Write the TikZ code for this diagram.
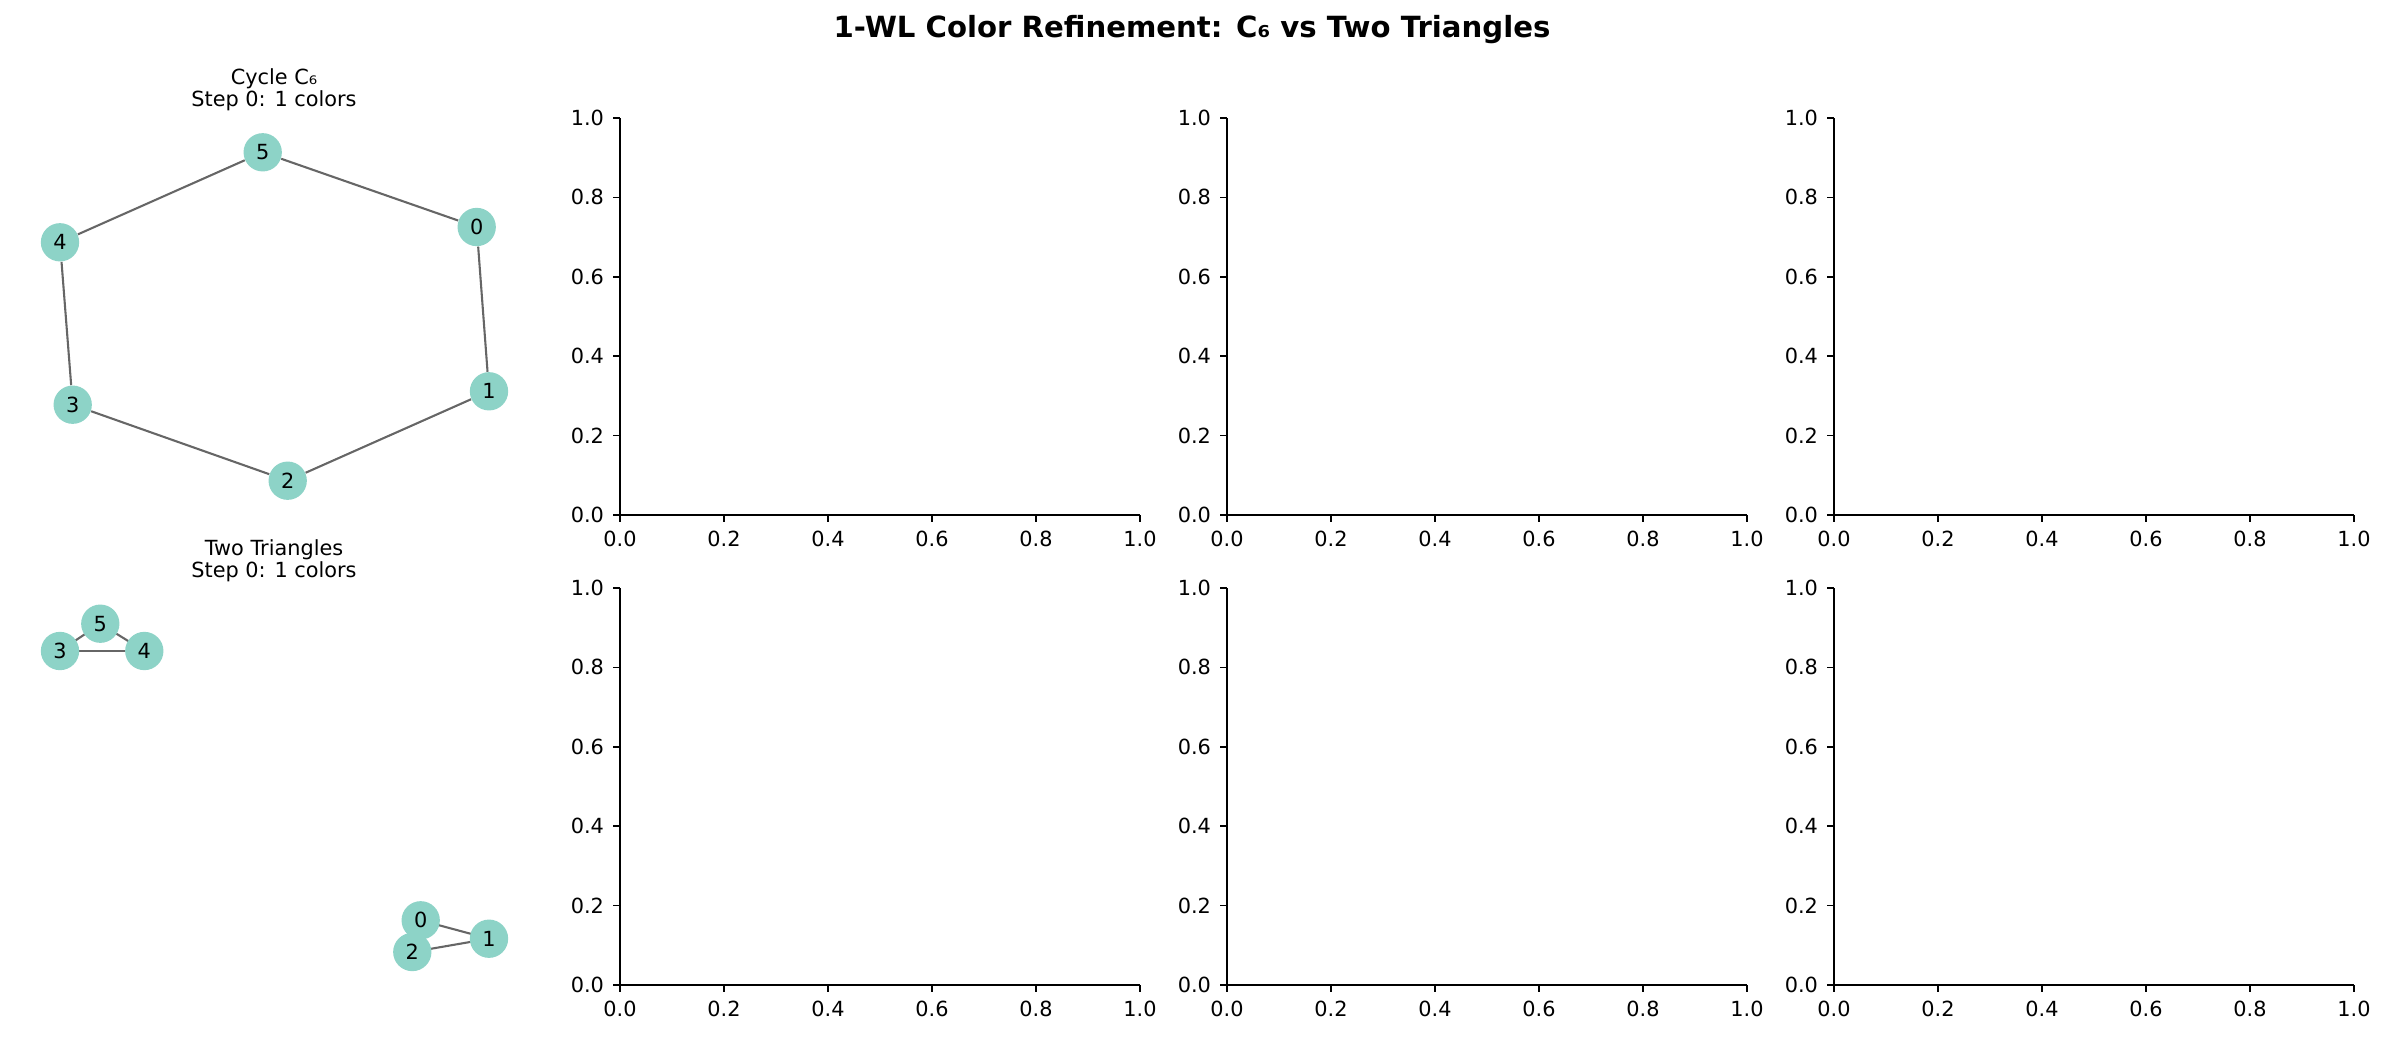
\documentclass[tikz,border=0pt]{standalone}
\usepackage{fontspec}
\setmainfont{DejaVu Sans}
\usetikzlibrary{backgrounds}
\definecolor{nodeteal}{HTML}{8DD3C7}
\definecolor{edgegray}{HTML}{666666}
\tikzset{
  vert/.style={circle,fill=nodeteal,minimum size=18.4bp,inner sep=0pt},
  link/.style={edgegray,line width=1bp},
  spine/.style={black,line width=0.8bp},
  subtitle/.style={align=center,inner sep=0pt,font=\fontsize{10bp}{10.5bp}\selectfont},
}
\begin{document}
\begin{tikzpicture}[x=0.48bp,y=-0.48bp,font=\fontsize{10bp}{12bp}\selectfont]
  \useasboundingbox (0,0) rectangle (2384,1036);
  \node[font=\fontsize{14bp}{16bp}\selectfont\bfseries] (title) at (1192,30)
    {1-WL Color Refinement: C₆ vs Two Triangles};
  % empty axes, left and bottom spines only
  \foreach \ax/\ay [count=\p] in {620/515,1227/515,1834/515,620/985,1227/985,1834/985} {
    \draw[spine] (\ax,\ay-397) -- (\ax,\ay) -- (\ax+520,\ay);
    \foreach \t [count=\k from 0] in {0.0,0.2,0.4,0.6,0.8,1.0} {
      \draw[spine] (\ax+104*\k,\ay) -- ++(0,7.3)
        node[anchor=north,inner sep=0pt,yshift=-3.8bp] (xl\p\k) {\t};
      \draw[spine] (\ax,\ay-79.4*\k) -- ++(-7.3,0)
        node[anchor=east,inner sep=0pt,xshift=-3.8bp] (yl\p\k) {\t};
    }
  }
  % cycle C6
  \node[subtitle] (ctitle) at (274,90) {Cycle C₆\\Step 0: 1 colors};
  \foreach \n/\px/\py in {0/476.7/227,1/489/391.3,2/287.7/480.7,3/72.7/404.7,4/60/242.3,5/262.7/152.3}
    \node[vert] (c\n) at (\px,\py) {\n};
  % two triangles
  \node[subtitle] (ttitle) at (274,561) {Two Triangles\\Step 0: 1 colors};
  \foreach \n/\px/\py in {0/420.7/920.3,1/489/938.7,2/412.3/952,3/60/651,4/144.3/651,5/100.3/623.7}
    \node[vert] (t\n) at (\px,\py) {\n};
  \begin{pgfonlayer}{background}
    \foreach \a/\b in {0/1,1/2,2/3,3/4,4/5,5/0}
      \draw[link] (c\a) -- (c\b);
    \foreach \a/\b in {0/1,1/2,2/0,3/4,4/5,5/3}
      \draw[link] (t\a.center) -- (t\b.center);
  \end{pgfonlayer}
\end{tikzpicture}
\end{document}
